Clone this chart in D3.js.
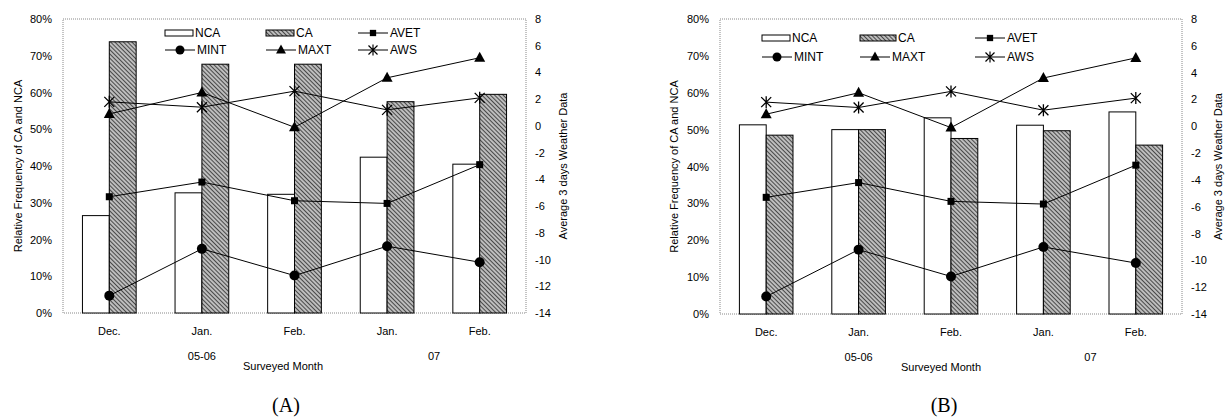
<!DOCTYPE html>
<html>
<head>
<meta charset="utf-8">
<script src="https://cdn.jsdelivr.net/npm/d3@7"></script>
<style>
  body { margin: 0; background: #fff; }
  text { font-family: "Liberation Sans", Arial, sans-serif; fill: #000; }
</style>
</head>
<body>
<svg width="1232" height="418"></svg>
<script>
// categories and tick labels
var months = ["Dec.", "Jan.", "Feb.", "Jan.", "Feb."];
var leftTicks = [0, 10, 20, 30, 40, 50, 60, 70, 80];
var rightTicks = [-14, -12, -10, -8, -6, -4, -2, 0, 2, 4, 6, 8];

// relative frequency (%)
var ncaA = [26.5, 32.7, 32.3, 42.4, 40.5];
var caA  = [73.8, 67.7, 67.7, 57.5, 59.5];
var ncaB = [51.3, 50.0, 53.2, 51.2, 54.8];
var caB  = [48.5, 50.0, 47.6, 49.7, 45.8];

// average 3 days weather data
var avet = [-5.3, -4.2, -5.6, -5.8, -2.9];
var mint = [-12.7, -9.2, -11.2, -9.0, -10.2];
var maxt = [0.9, 2.5, -0.1, 3.6, 5.1];
var aws  = [1.8, 1.4, 2.6, 1.2, 2.1];

var svg = d3.select("svg");

// hatch for CA bars
var pat = svg.append("defs").append("pattern")
    .attr("id", "hatch")
    .attr("patternUnits", "userSpaceOnUse")
    .attr("width", 3).attr("height", 3)
    .attr("patternTransform", "rotate(-45)");
pat.append("rect").attr("width", 3).attr("height", 3).attr("fill", "#bdbdbd");
pat.append("line").attr("x1", 0).attr("y1", 0).attr("x2", 0).attr("y2", 3)
    .attr("stroke", "#222").attr("stroke-width", 1.5);

var series = [
  {name: "AVET", values: avet, shape: "square"},
  {name: "MINT", values: mint, shape: "circle"},
  {name: "MAXT", values: maxt, shape: "triangle"},
  {name: "AWS",  values: aws,  shape: "star"}
];

function marker(g, shape) {
  if (shape === "square") {
    g.append("rect").attr("x", -3.5).attr("y", -3.5).attr("width", 7).attr("height", 7).attr("fill", "#000");
  } else if (shape === "circle") {
    g.append("circle").attr("r", 5).attr("fill", "#000");
  } else if (shape === "triangle") {
    g.append("path").attr("d", "M0,-6L5.5,4L-5.5,4Z").attr("fill", "#000");
  } else {
    g.append("path").attr("d", "M-5,-5L5,5M5,-5L-5,5M0,-6L0,6")
      .attr("stroke", "#000").attr("stroke-width", 1.3).attr("fill", "none");
  }
}

function panel(p) {
  var x = d3.scaleBand().domain(d3.range(months.length))
      .range([p.left, p.right]).paddingInner(0.42).paddingOuter(0.21);
  var xs = d3.scaleBand().domain(["NCA", "CA"]).range([0, x.bandwidth()]);
  var y = d3.scaleLinear().domain([0, 80]).range([p.bottom, p.top]);
  var y2 = d3.scaleLinear().domain([-14, 8]).range([p.bottom, p.top]);

  var g = svg.append("g");

  // frame
  g.append("rect")
      .attr("x", p.left).attr("y", p.top)
      .attr("width", p.right - p.left).attr("height", p.bottom - p.top)
      .attr("fill", "none").attr("stroke", "#888").attr("stroke-dasharray", "1,1");

  // bars
  var bars = [{key: "NCA", vals: p.nca, fill: "#fff"}, {key: "CA", vals: p.ca, fill: "url(#hatch)"}];
  bars.forEach(function(b) {
    g.selectAll(null).data(b.vals).enter().append("rect")
        .attr("x", function(d, i) { return x(i) + xs(b.key); })
        .attr("y", function(d) { return y(d); })
        .attr("width", xs.bandwidth())
        .attr("height", function(d) { return y(0) - y(d); })
        .attr("fill", b.fill)
        .attr("stroke", "#000").attr("stroke-width", 1);
  });

  // lines
  var cx = function(i) { return x(i) + x.bandwidth() / 2; };
  var line = d3.line().x(function(d, i) { return cx(i); }).y(function(d) { return y2(d); });
  series.forEach(function(s) {
    g.append("path").datum(s.values).attr("d", line)
        .attr("fill", "none").attr("stroke", "#000").attr("stroke-width", 1);
    s.values.forEach(function(v, i) {
      marker(g.append("g").attr("transform", "translate(" + cx(i) + "," + y2(v) + ")"), s.shape);
    });
  });

  // axes
  var ax = g.append("g").attr("transform", "translate(0," + p.bottom + ")")
      .call(d3.axisBottom(x).tickSize(0).tickPadding(14).tickFormat(function(i) { return months[i]; }));
  ax.select(".domain").remove();
  var al = g.append("g").attr("transform", "translate(" + p.left + ",0)")
      .call(d3.axisLeft(y).tickValues(leftTicks).tickSize(0).tickPadding(11).tickFormat(function(d) { return d + "%"; }));
  al.select(".domain").remove();
  var ar = g.append("g").attr("transform", "translate(" + p.right + ",0)")
      .call(d3.axisRight(y2).tickValues(rightTicks).tickSize(0).tickPadding(9).tickFormat(function(d) { return d < 0 ? "-" + Math.abs(d) : d; }));
  ar.select(".domain").remove();
  g.selectAll(".tick text").style("font-size", "11px").attr("fill", "#000")
      .style("font-family", "'Liberation Sans', Arial, sans-serif");

  // axis titles
  g.append("text").attr("transform", "translate(" + p.ltitle + "," + (p.top + p.bottom) / 2 + ") rotate(-90)")
      .attr("text-anchor", "middle").attr("dy", "0.35em").style("font-size", "11px")
      .text("Relative Frequency of CA and NCA");
  g.append("text").attr("transform", "translate(" + p.rtitle + "," + (p.top + p.bottom) / 2 + ") rotate(-90)")
      .attr("text-anchor", "middle").attr("dy", "0.35em").style("font-size", "11px")
      .text("Average 3 days Weather Data");
  g.append("text").attr("x", cx(1)).attr("y", p.bottom + 47).attr("text-anchor", "middle")
      .style("font-size", "11px").text("05-06");
  g.append("text").attr("x", cx(3) + 47).attr("y", p.bottom + 47).attr("text-anchor", "middle")
      .style("font-size", "11px").text("07");
  g.append("text").attr("x", p.xtitle).attr("y", p.bottom + 57).attr("text-anchor", "middle")
      .style("font-size", "11px").text("Surveyed Month");
  g.append("text").attr("x", p.xtitle + 3).attr("y", 412).attr("text-anchor", "middle")
      .style("font-family", "'Liberation Serif', 'Times New Roman', serif").style("font-size", "20px")
      .text(p.label);

  // legend
  var lg = p.legend;
  var rows = [p.top + lg.row1, p.top + lg.row2];
  var sw = [{key: "NCA", fill: "#fff", col: 0}, {key: "CA", fill: "url(#hatch)", col: 1}];
  sw.forEach(function(s) {
    var x0 = p.left + lg.cols[s.col];
    g.append("rect").attr("x", x0).attr("y", rows[0] - 3).attr("width", lg.sw[s.col]).attr("height", 6)
        .attr("fill", s.fill).attr("stroke", "#000");
    g.append("text").attr("x", x0 + lg.sw[s.col] + 2).attr("y", rows[0]).attr("dy", "0.35em")
        .style("font-size", "12px").text(s.key);
  });
  var lpos = [{s: series[0], col: 2, row: 0}, {s: series[1], col: 0, row: 1},
              {s: series[2], col: 1, row: 1}, {s: series[3], col: 2, row: 1}];
  lpos.forEach(function(l) {
    var x0 = p.left + lg.cols[l.col], yy = rows[l.row], w = lg.lw;
    g.append("line").attr("x1", x0).attr("x2", x0 + w).attr("y1", yy).attr("y2", yy)
        .attr("stroke", "#000");
    marker(g.append("g").attr("transform", "translate(" + (x0 + w / 2) + "," + yy + ") scale(0.9)"), l.s.shape);
    g.append("text").attr("x", x0 + w + 2).attr("y", yy).attr("dy", "0.35em")
        .style("font-size", "12px").text(l.s.name);
  });
}

panel({left: 63, right: 526, top: 19, bottom: 313, nca: ncaA, ca: caA,
       ltitle: 18, rtitle: 563, xtitle: 283, label: "(A)",
       legend: {cols: [102, 203, 295], row1: 14, row2: 31, sw: [28, 28], lw: 30}});
panel({left: 720, right: 1182, top: 19, bottom: 314, nca: ncaB, ca: caB,
       ltitle: 674, rtitle: 1218, xtitle: 941, label: "(B)",
       legend: {cols: [42, 140, 255], row1: 19, row2: 38, sw: [28, 36], lw: 30}});
</script>
</body>
</html>
